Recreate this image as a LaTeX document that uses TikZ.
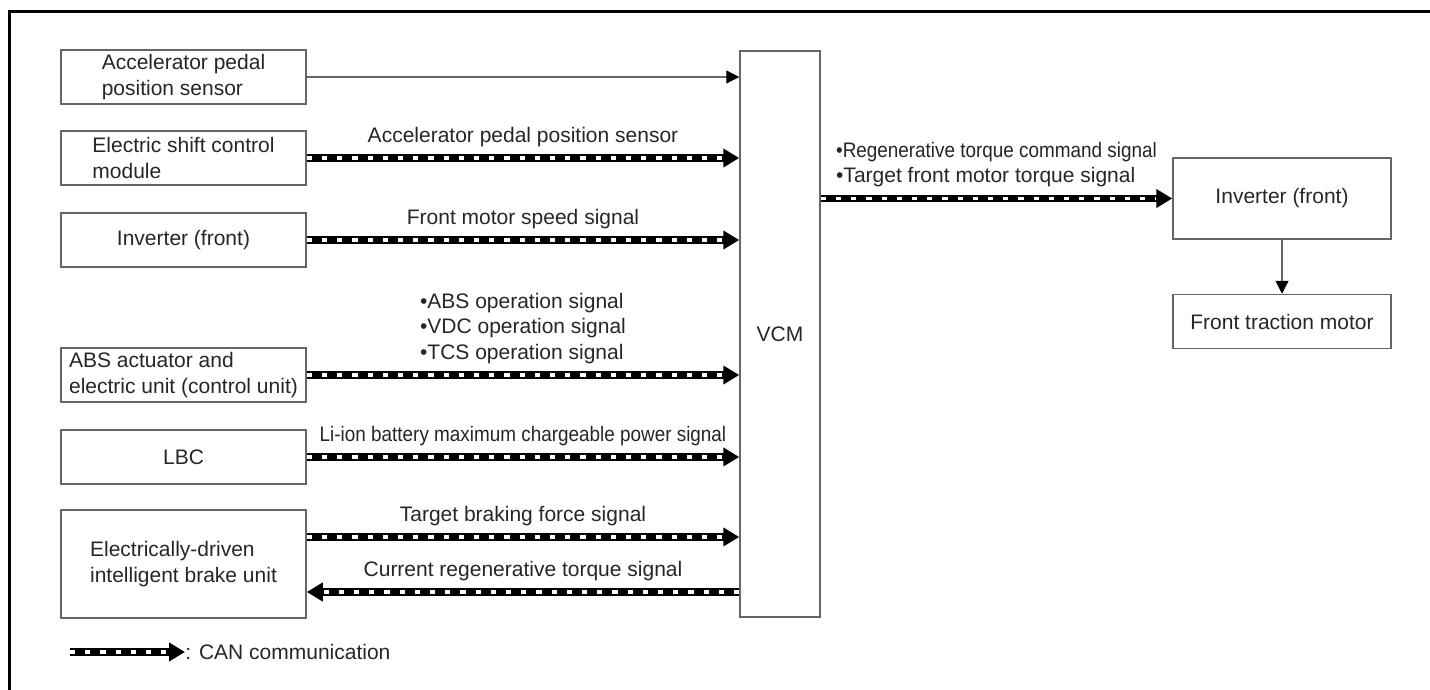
\documentclass[tikz,border=0pt]{standalone}
\usepackage{fontspec}
\setmainfont{Liberation Sans}
\newfontfamily\narrowfont[FakeStretch=0.9]{Liberation Sans}
\usetikzlibrary{arrows.meta, positioning}

\begin{document}
\begin{tikzpicture}[
    x=0.5pt, y=-0.5pt,
    font={\fontsize{10.5pt}{12.6pt}\selectfont},
    text=black!85,
    unit/.style={draw=black!60, line width=0.75pt, align=left, inner sep=2pt, minimum width=122.5pt, minimum height=27pt},
    sig/.style={draw=black!60, line width=0.6pt, -{Triangle[length=6.5pt, width=6.5pt, color=black]}},
    can/.style={draw=black, line width=3.6pt, -{Triangle[length=8pt, width=9pt]},
        postaction={draw=white, arrows=-, line width=1.8pt, dash pattern=on 2.6pt off 5pt, shorten >=8pt}},
    lbl/.style={midway, above=4pt, inner sep=0pt, align=left},
    frame/.style={draw=black, line width=1.5pt}
]
\useasboundingbox (0,0) rectangle (1430,690);

% --------------------------------------------------------------------------
% Frame
% --------------------------------------------------------------------------
\draw[frame] (9,690) -- (9,12) -- (1430,12);

% --------------------------------------------------------------------------
% Input units and VCM
% --------------------------------------------------------------------------
\node[unit] (aps) at (183.5,77) {Accelerator pedal\\position sensor};
\node[unit] (esc) at (183.5,158) {Electric shift control\\module};
\node[unit] (invf) at (183.5,240) {Inverter (front)};
\node[unit] (abs) at (183.5,375) {ABS actuator and\\electric unit (control unit)};
\node[unit] (lbc) at (183.5,457) {LBC};
\node[unit, minimum height=54pt] (brake) at (183.5,564) {Electrically-driven\\intelligent brake unit};

\node[unit, minimum width=40pt, minimum height=283pt] (vcm) at (780,334) {VCM};

\draw[sig] (aps.east) -- (aps.east -| vcm.west);
\draw[can] (esc.east) -- (esc.east -| vcm.west) node[lbl] {Accelerator pedal position sensor};
\draw[can] (invf.east) -- (invf.east -| vcm.west) node[lbl] {Front motor speed signal};
\draw[can] (abs.east) -- (abs.east -| vcm.west) node[lbl] {•ABS operation signal\\•VDC operation signal\\•TCS operation signal};
\draw[can] (lbc.east) -- (lbc.east -| vcm.west) node[lbl] {\narrowfont Li-ion battery maximum chargeable power signal};

\coordinate (brakein) at ([yshift=13.5pt]brake.east);
\coordinate (brakeout) at ([yshift=-14pt]brake.east);
\draw[can] (brakein) -- (brakein -| vcm.west) node[lbl] {Target braking force signal};
\draw[can] (brakeout -| vcm.west) -- (brakeout) node[lbl] {Current regenerative torque signal};

% --------------------------------------------------------------------------
% Output side
% --------------------------------------------------------------------------
\node[unit, minimum width=109pt, minimum height=40.5pt] (invr) at (1282,198.5) {Inverter (front)};
\node[unit, minimum width=109pt, below=27pt of invr] (motor) {Front traction motor};

\draw[can] (invr.west -| vcm.east) -- (invr.west) node[lbl] {{\narrowfont •Regenerative torque command signal}\\•Target front motor torque signal};
\draw[sig] (invr.south) -- (motor.north);

% Legend
\coordinate (legstart) at (70,652);
\node[anchor=west, inner sep=0pt] (legtext) at (185,652) {: CAN communication};
\draw[can] (legstart) -- (legtext.west);

\end{tikzpicture}
\end{document}
